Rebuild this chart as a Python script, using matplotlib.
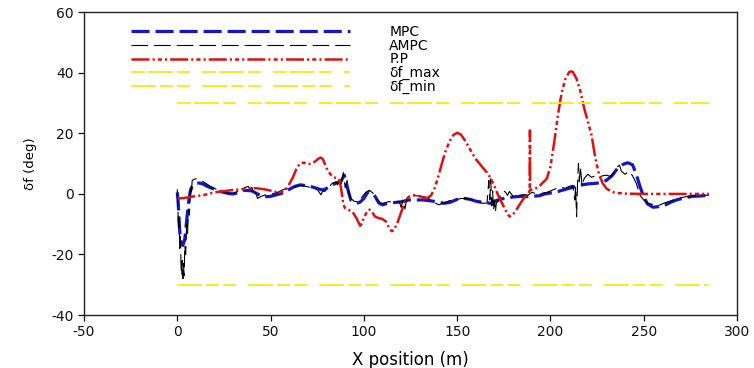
import matplotlib
matplotlib.use("Agg")
import matplotlib.pyplot as plt

plt.rcParams['font.family'] = ['DejaVu Sans']
plt.rcParams['lines.scale_dashes'] = False
plt.rcParams['axes.unicode_minus'] = False

# ---------------- data ----------------
mpc_x = [0, 0.5, 1, 1.5, 2, 3, 4, 5, 6, 7, 8, 10, 12, 14, 16, 18, 20, 22, 25, 28, 30, 33, 36, 40,
         43, 46, 50, 53, 56, 60, 63, 66, 70, 73, 76, 78, 80, 83, 86, 88, 89.5, 90.5, 91.5, 93, 96,
         98, 100, 102, 103, 104.5, 106, 108, 110, 112, 114, 117, 120, 124, 128, 132, 136, 140, 143,
         146, 150, 153, 157, 160, 164, 168, 171, 174, 177, 180, 184, 187, 190, 194, 197, 200, 204,
         208, 212, 216, 220, 224, 227, 230, 233, 236, 239, 241.5, 244, 246, 248, 250, 252, 255,
         258, 261, 265, 268, 272, 276, 280, 285]
mpc_y = [0.5, -3, -9, -14, -16.5, -17, -15, -9, -3, 1, 2.5, 3.5, 3.6, 3.2, 2.5, 2.0, 1.5, 1.0, 0.5,
         0.1, 0.0, 0.5, 1.2, 1.0, 0.0, -1.0, -0.8, -0.3, 0.2, 1.5, 2.5, 3.0, 2.6, 2.2, 1.6, 1.3, 1.8,
         3.0, 3.8, 4.5, 6.2, 4.0, 1.3, -2.0, -3.1, -2.7, -1.5, 0.5, 0.8, 0.3, -0.8, -3.0, -3.6, -3.2,
         -3.0, -2.8, -2.6, -2.0, -2.0, -2.0, -2.3, -2.7, -3.1, -2.8, -1.8, -1.4, -1.8, -2.4, -2.8,
         -3.1, -2.2, -1.6, -1.4, -1.0, -0.8, -0.9, -0.8, -0.6, 0.0, 0.3, 0.8, 1.5, 2.2, 2.9, 3.3,
         3.5, 3.7, 4.5, 6.0, 8.5, 9.8, 10.3, 9.6, 6.5, 2.4, -1.0, -3.3, -4.4, -4.2, -3.8, -2.6,
         -1.9, -1.3, -0.8, -0.7, -0.4]

ampc_x = [0, 0.3, 0.7, 1, 1.3, 1.7, 2, 2.4, 2.7, 3, 3.3, 3.7, 4, 4.5, 5, 5.5, 6, 6.5, 7, 7.5, 8,
          9, 10, 12, 14, 16, 18, 21, 24, 27, 30, 33, 36, 38, 39, 40, 41, 42, 43, 45, 48, 51, 54,
          57, 60, 63, 66, 69, 72, 75, 77, 78, 79, 81, 83, 85, 86, 87, 88, 89, 90, 91, 92, 93, 95,
          97, 99, 101, 103, 105, 107, 109, 111, 113, 115, 117, 119, 120, 121, 122, 123, 125, 128,
          131, 134, 137, 140, 143, 146, 149, 152, 155, 158, 161, 164, 166, 167, 167.5, 168,
          168.5, 169, 169.5, 170, 170.5, 171, 172, 173, 174, 175, 176, 177, 178, 180, 183, 186,
          188, 190, 192, 194, 196, 198, 200, 202, 204, 206, 208, 210, 212, 213, 213.5, 214,
          214.5, 215, 215.5, 216, 217, 218, 220, 222, 224, 226, 228, 230, 232, 234, 236, 237,
          238, 240, 242, 244, 246, 248, 250, 252, 255, 258, 261, 265, 268, 272, 276, 280, 285]
ampc_y = [1.5, -4, -12, -8, -18, -14, -24, -27, -22, -28, -23, -27, -17, -20, -10, -13, -5, -7, 2,
          0, 4.5, 4.8, 5, 4.5, 4, 3.2, 2.4, 1.5, 0.8, 0.2, 0.2, 1, 2, 2.5, 1.5, 2.2, -0.5, 0.5,
          -1.5, -0.8, -0.2, 0, 0.6, 1.5, 1.8, 2.2, 2.8, 2.5, 2.0, 1.5, -0.3, 1.0, 0.8, 2.0, 3.5,
          4.0, 3.0, 5.5, 3.5, 7, 2, 4.5, 0, -1.5, -2.5, -2.5, -1.0, 0.5, 1.2, 0.2, -1.5, -3.2,
          -3.0, -2.6, -2.5, -2.8, -2.5, -4.5, -2.0, -5.0, -1.5, -0.8, -0.6, -0.8, -1.2, -2.5,
          -3.6, -3.0, -2.2, -2.0, -1.5, -1.5, -2.0, -2.8, -3.1, -3.0, 4.5, -2, 5, -4, 1, -5.5,
          -2, -6, -3, -2.5, -1.0, 0.2, 1.0, 0.5, -0.5, 0.8, -0.8, -0.5, -0.2, -0.4, 0.5, 0.2,
          -0.2, 0.3, 0.5, 1.0, 1.5, 2.0, 2.2, 1.8, 2.5, 2.8, -2, 2.5, -7.5, 3, 10, 4, 9, 2.5, 5,
          6.5, 5.5, 6, 5.5, 6, 6.2, 5.8, 7, 9, 9.5, 7.5, 6.5, 7.5, 6, 3.5, -0.5, -2.0, -3.0,
          -3.5, -3.8, -3.0, -2.2, -1.5, -1.0, -0.6, -0.5, -0.4]

pp_x = [0, 3, 6, 10, 14, 18, 22, 26, 30, 34, 38, 42, 46, 50, 54, 56, 58, 60, 62, 64, 66, 68, 70,
        72, 74, 76, 77, 78, 80, 82, 84, 86, 87, 88, 89, 90, 92, 94, 96, 98, 99, 100, 102, 103,
        104, 106, 108, 110, 112, 114, 115, 116, 118, 120, 122, 124, 126, 128, 130, 132, 134,
        136, 138, 140, 142, 144, 146, 148, 150, 152, 154, 156, 158, 160, 162, 164, 166, 168,
        170, 172, 174, 176, 178, 180, 182, 184, 186, 188, 188.9, 189, 189.1, 190, 192, 194, 196,
        198, 200, 202, 204, 206, 208, 210, 211, 212, 214, 216, 218, 220, 222, 224, 226, 228,
        230, 232, 234, 236, 240, 250, 260, 270, 280, 285]
pp_y = [-1.5, -1.4, -1.1, -0.7, -0.4, 0.2, 0.7, 1.0, 1.3, 1.5, 1.8, 1.9, 1.6, 1.1, 0.4, 0.6, 1.5,
        3.2, 5.5, 8.5, 10.2, 10.3, 9.8, 10.0, 10.8, 11.8, 12.0, 11.5, 8.5, 6.5, 5.5, 5.0, 4.5,
        1.0, -3.5, -4.8, -5.3, -6.0, -8.0, -10.5, -9.8, -7.8, -5.5, -5.2, -5.6, -7.5, -8.0,
        -8.3, -9.2, -11.8, -12.3, -12.0, -9.5, -6.0, -2.5, -1.0, -0.4, -0.5, -0.8, -1.2, -1.4,
        -0.5, 2.0, 6.0, 10.5, 14.5, 17.5, 19.5, 20.2, 19.6, 17.8, 15.8, 13.5, 11.5, 10.0, 8.5,
        7.0, 5.2, 2.5, -0.5, -3.0, -5.5, -7.5, -6.8, -5.0, -3.0, -1.2, 0.2, 1.0, 21.0, 1.2,
        1.4, 1.8, 2.5, 3.8, 5.0, 9.0, 17.0, 26.0, 33.5, 38.0, 40.2, 40.5, 40.3, 38.0, 34.0,
        28.5, 24.0, 19.5, 12.0, 6.5, 3.5, 1.8, 1.0, 0.5, 0.3, 0.1, 0.0, 0.0, 0.0, 0.0, 0.0]

lim_x = [0, 285]
df_max = [30, 30]
df_min = [-30, -30]

x_ticks = [-50, 0, 50, 100, 150, 200, 250, 300]
y_ticks = [-40, -20, 0, 20, 40, 60]

# ---------------- figure ----------------
fig = plt.figure(figsize=(7.54, 3.68), dpi=100)
ax = fig.add_axes([0.1114, 0.144, 0.8661, 0.8226])

yellow = '#f2ee22'
ax.plot(mpc_x, mpc_y, color='#1414c8', lw=2.3, dashes=(13, 4.3), label='MPC')
ax.plot(ampc_x, ampc_y, color='black', lw=0.8, dashes=(12, 4.3), label='AMPC')
ax.plot(pp_x, pp_y, color='#dd1111', lw=1.8,
        dashes=(13, 2.2, 1.5, 2.2, 3, 2.2, 1.5, 2.2), label='P.P')
ax.plot(lim_x, df_max, color=yellow, lw=1.4, dashes=(10, 2.2, 18, 2.9, 9.4, 8.6), label='δf_max')
ax.plot(lim_x, df_min, color=yellow, lw=1.4, dashes=(18, 2.9, 9.4, 2.9, 9.4, 8.6), label='δf_min')

ax.set_xlim(-50, 300)
ax.set_ylim(-40, 60)
ax.set_xticks(x_ticks)
ax.set_yticks(y_ticks)
ax.tick_params(direction='out', length=4, width=0.9, labelsize=10, colors='#111111')
for s in ax.spines.values():
    s.set_linewidth(1.0)
    s.set_color('#222222')

ax.set_xlabel('X position (m)', fontsize=12, labelpad=8)
ax.set_ylabel('δf (deg)', fontsize=9.5, labelpad=10)

leg = ax.legend(loc='upper left', bbox_to_anchor=(0.072, 0.958), frameon=False,
                fontsize=10, handlelength=15.8, handletextpad=2.8, labelspacing=-0.02,
                borderpad=0, borderaxespad=0)

fig.savefig('out.png', dpi=100)
